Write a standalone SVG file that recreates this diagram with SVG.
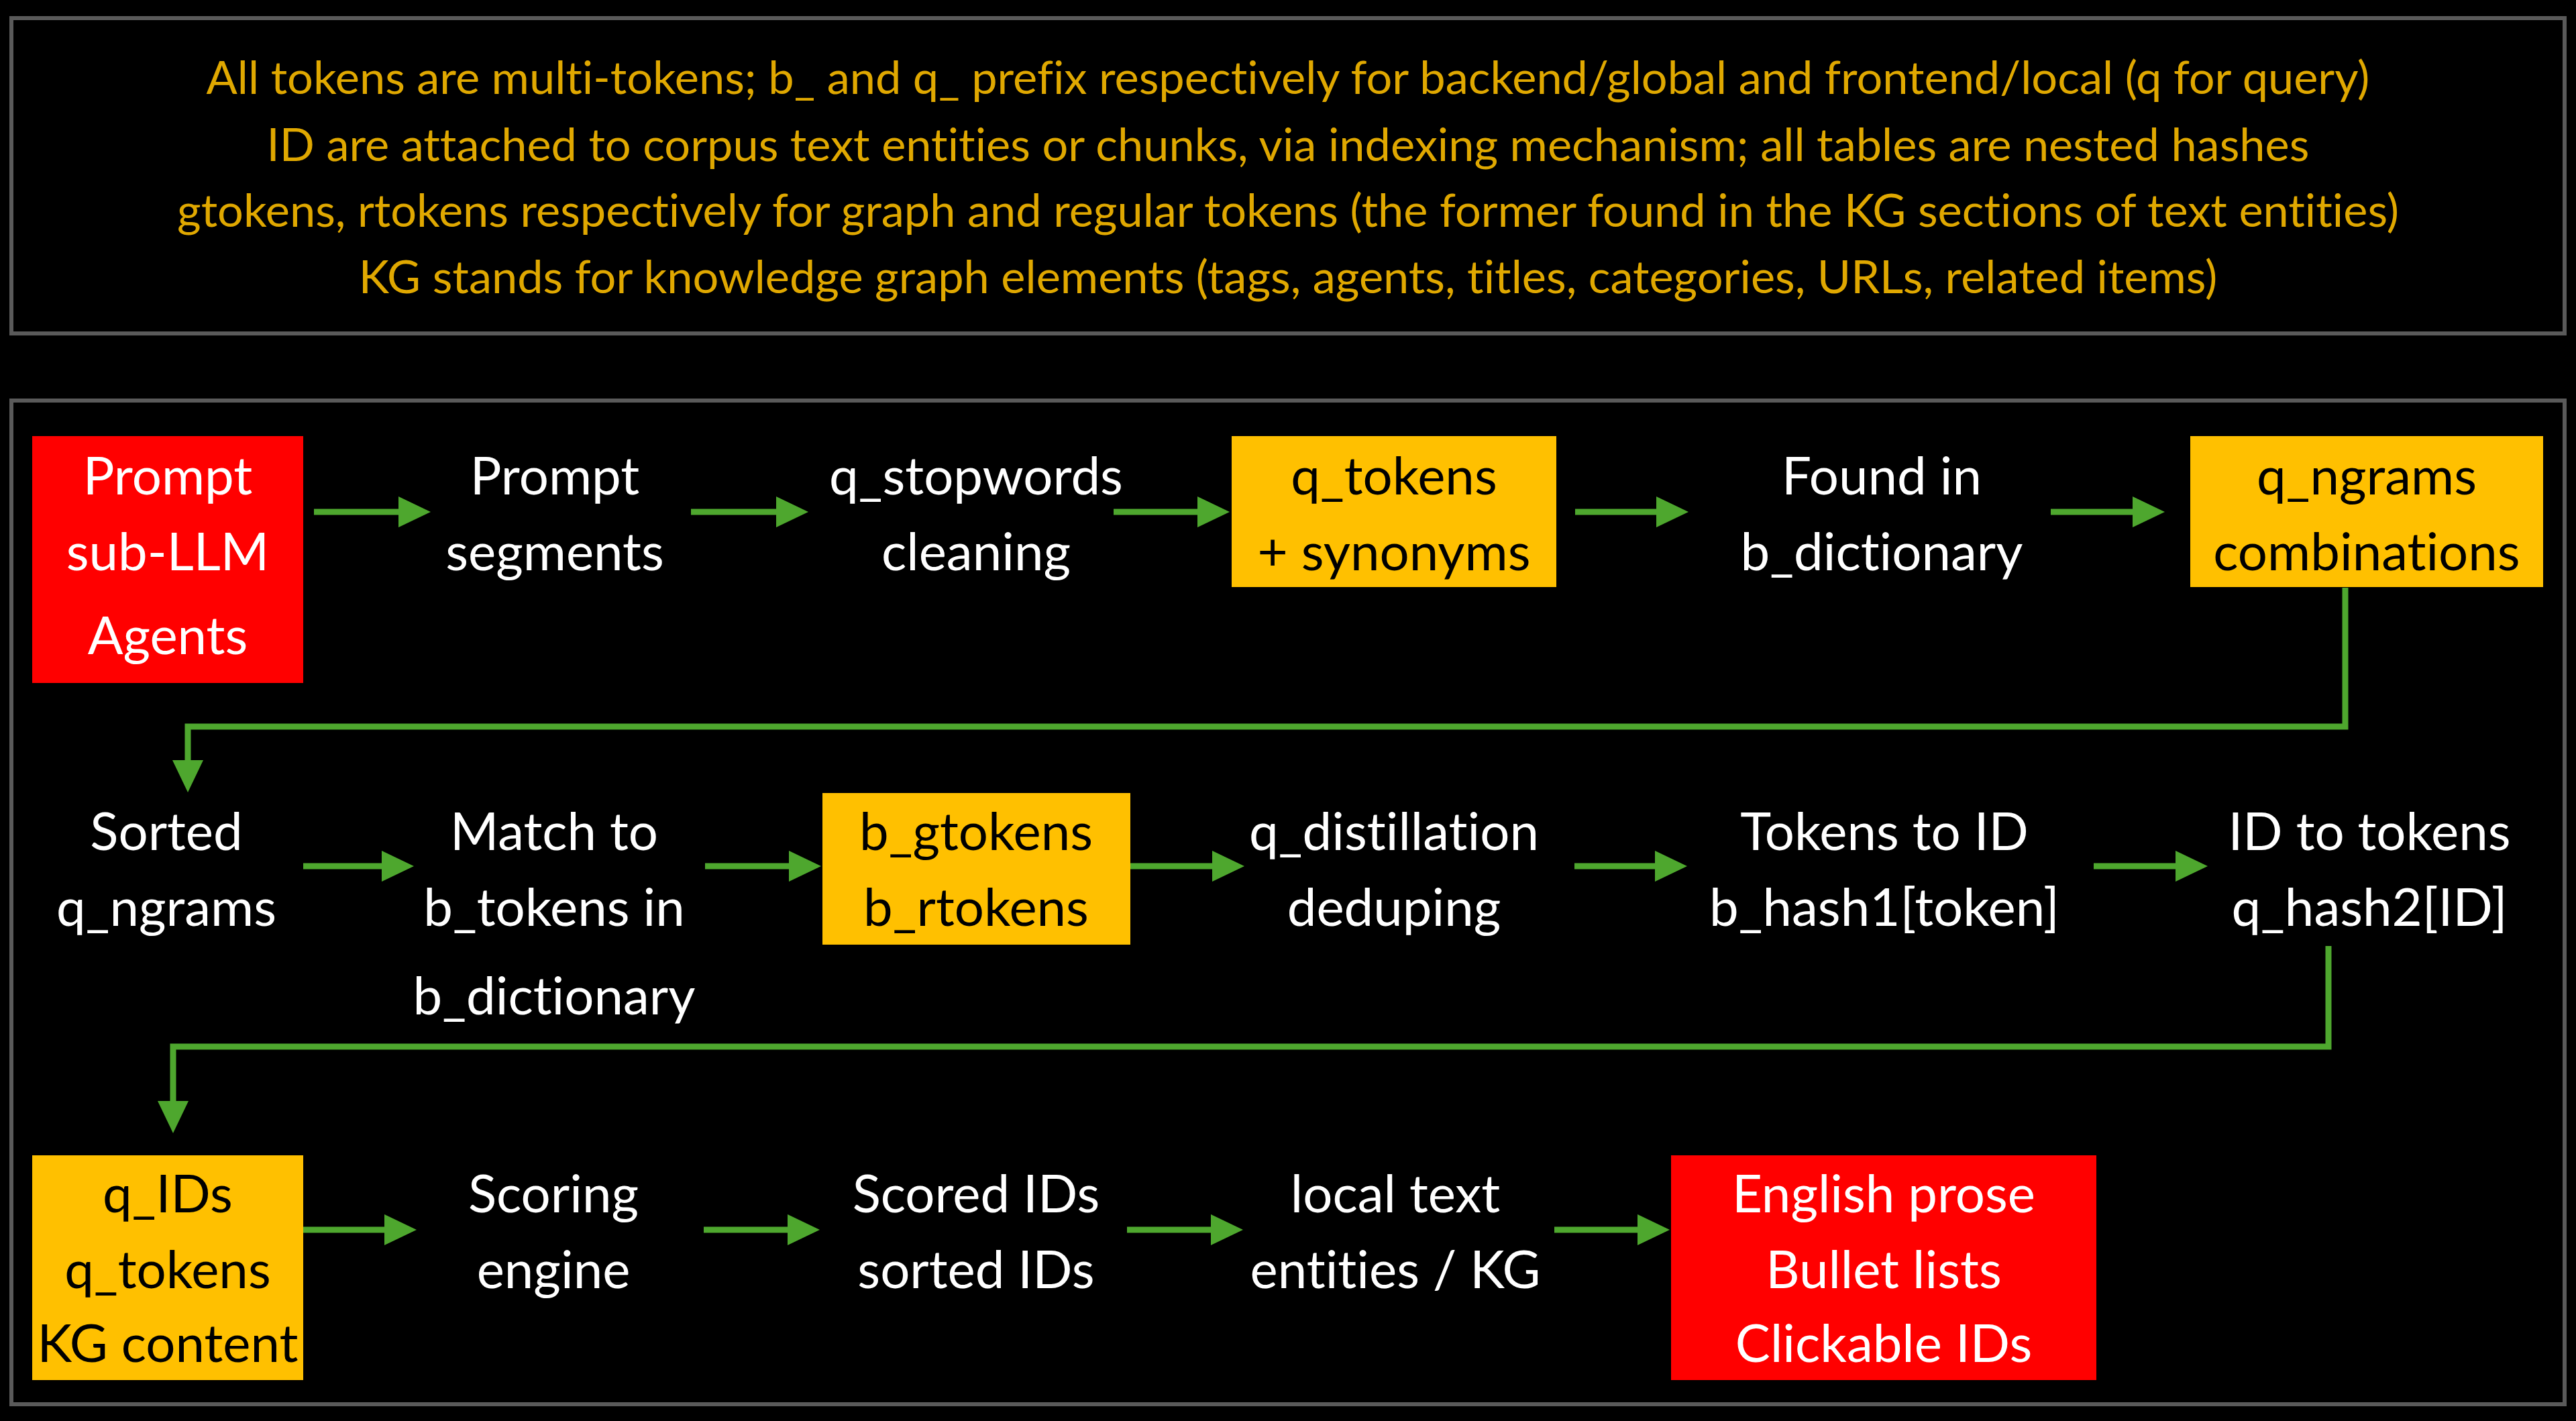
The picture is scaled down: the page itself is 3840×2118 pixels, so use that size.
<svg xmlns="http://www.w3.org/2000/svg" width="3840" height="2118" viewBox="0 0 3840 2118">
<style>
.frame{fill:none;stroke:#5a5a5a;stroke-width:6}
.note{font-family:Lato,"Liberation Sans",sans-serif;font-size:68.5px;fill:#e0a800;text-anchor:middle;font-variant-ligatures:none}
.t{font-family:Lato,"Liberation Sans",sans-serif;font-size:78px;text-anchor:middle;font-variant-ligatures:none}
.w{fill:#ffffff}
.k{fill:#000000}
.red{fill:#ff0000}
.gold{fill:#ffc000}
.c{fill:none;stroke:#4ea72e;stroke-width:9}
</style>
<defs>
<marker id="ah" markerUnits="userSpaceOnUse" markerWidth="48" markerHeight="46" refX="4" refY="23" orient="auto">
<path d="M0,0 L48,23 L0,46 Z" fill="#4ea72e"/>
</marker>
</defs>
<rect width="3840" height="2118" fill="#000000"/>
<rect class="frame" x="17" y="27" width="3806" height="470"/>
<g id="notes">
<text class="note" x="1920" y="140">All tokens are multi-tokens; b_ and q_ prefix respectively for backend/global and frontend/local (q for query)</text>
<text class="note" x="1920" y="240">ID are attached to corpus text entities or chunks, via indexing mechanism; all tables are nested hashes</text>
<text class="note" x="1920" y="338">gtokens, rtokens respectively for graph and regular tokens (the former found in the KG sections of text entities)</text>
<text class="note" x="1920" y="437">KG stands for knowledge graph elements (tags, agents, titles, categories, URLs, related items)</text>
</g>
<rect class="frame" x="17" y="597" width="3806" height="1496"/>
<g id="connectors">
<path class="c" d="M468,763 H598" marker-end="url(#ah)"/>
<path class="c" d="M1030,763 H1161" marker-end="url(#ah)"/>
<path class="c" d="M1660,763 H1789" marker-end="url(#ah)"/>
<path class="c" d="M2348,763 H2473" marker-end="url(#ah)"/>
<path class="c" d="M3057,763 H3183" marker-end="url(#ah)"/>
<path class="c" d="M3496,876 V1083 H280 V1137" marker-end="url(#ah)"/>
<path class="c" d="M452,1291 H573" marker-end="url(#ah)"/>
<path class="c" d="M1051,1291 H1180" marker-end="url(#ah)"/>
<path class="c" d="M1685,1291 H1811" marker-end="url(#ah)"/>
<path class="c" d="M2347,1291 H2471" marker-end="url(#ah)"/>
<path class="c" d="M3121,1291 H3247" marker-end="url(#ah)"/>
<path class="c" d="M3471,1410 V1560 H258 V1645" marker-end="url(#ah)"/>
<path class="c" d="M452,1833 H577" marker-end="url(#ah)"/>
<path class="c" d="M1049,1833 H1178" marker-end="url(#ah)"/>
<path class="c" d="M1680,1833 H1809" marker-end="url(#ah)"/>
<path class="c" d="M2317,1833 H2445" marker-end="url(#ah)"/>
</g>
<g id="n1"><rect class="red" x="48" y="650" width="404" height="368"/>
<text class="t w" x="250" y="737">Prompt</text><text class="t w" x="250" y="850">sub-LLM</text><text class="t w" x="250" y="975">Agents</text></g>
<g id="n2"><text class="t w" x="827" y="737">Prompt</text><text class="t w" x="827" y="850">segments</text></g>
<g id="n3"><text class="t w" x="1455" y="737">q_stopwords</text><text class="t w" x="1455" y="850">cleaning</text></g>
<g id="n4"><rect class="gold" x="1836" y="650" width="484" height="225"/>
<text class="t k" x="2078" y="737">q_tokens</text><text class="t k" x="2078" y="850">+ synonyms</text></g>
<g id="n5"><text class="t w" x="2805" y="737">Found in</text><text class="t w" x="2805" y="850">b_dictionary</text></g>
<g id="n6"><rect class="gold" x="3265" y="650" width="526" height="225"/>
<text class="t k" x="3528" y="737">q_ngrams</text><text class="t k" x="3528" y="850">combinations</text></g>
<g id="n7"><text class="t w" x="248" y="1267">Sorted</text><text class="t w" x="248" y="1380">q_ngrams</text></g>
<g id="n8"><text class="t w" x="826" y="1267">Match to</text><text class="t w" x="826" y="1380">b_tokens in</text><text class="t w" x="826" y="1512">b_dictionary</text></g>
<g id="n9"><rect class="gold" x="1226" y="1182" width="459" height="226"/>
<text class="t k" x="1455" y="1267">b_gtokens</text><text class="t k" x="1455" y="1380">b_rtokens</text></g>
<g id="n10"><text class="t w" x="2078" y="1267">q_distillation</text><text class="t w" x="2078" y="1380">deduping</text></g>
<g id="n11"><text class="t w" x="2809" y="1267">Tokens to ID</text><text class="t w" x="2809" y="1380">b_hash1[token]</text></g>
<g id="n12"><text class="t w" x="3532" y="1267">ID to tokens</text><text class="t w" x="3532" y="1380">q_hash2[ID]</text></g>
<g id="n13"><rect class="gold" x="48" y="1722" width="404" height="335"/>
<text class="t k" x="250" y="1807">q_IDs</text><text class="t k" x="250" y="1920">q_tokens</text><text class="t k" x="250" y="2030">KG content</text></g>
<g id="n14"><text class="t w" x="825" y="1807">Scoring</text><text class="t w" x="825" y="1920">engine</text></g>
<g id="n15"><text class="t w" x="1455" y="1807">Scored IDs</text><text class="t w" x="1455" y="1920">sorted IDs</text></g>
<g id="n16"><text class="t w" x="2080" y="1807">local text</text><text class="t w" x="2080" y="1920">entities / KG</text></g>
<g id="n17"><rect class="red" x="2491" y="1722" width="634" height="335"/>
<text class="t w" x="2808" y="1807">English prose</text><text class="t w" x="2808" y="1920">Bullet lists</text><text class="t w" x="2808" y="2030">Clickable IDs</text></g>
</svg>
